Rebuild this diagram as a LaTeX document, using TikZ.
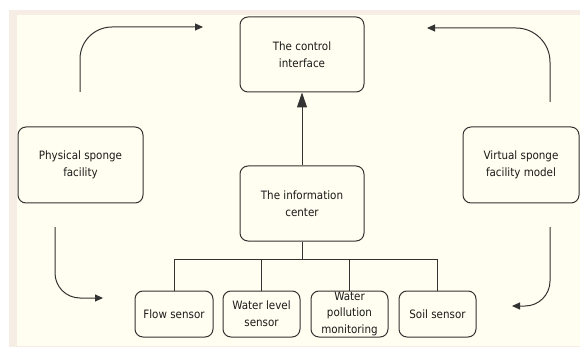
\documentclass[tikz,border=0pt]{standalone}
\usepackage{fontspec}
\setmainfont{DejaVu Sans Condensed}
\usetikzlibrary{arrows.meta}
\definecolor{beigeband}{HTML}{F6EEE5}
\definecolor{creambg}{HTML}{FFFEF0}
\definecolor{linecol}{HTML}{333333}
\definecolor{textcol}{HTML}{1A1A1A}
\tikzset{
  box/.style={draw=linecol, line width=1pt, rounded corners=8pt, fill=creambg,
    text=textcol, align=center, font=\fontsize{11.5}{17}\selectfont, inner sep=0pt},
  conn/.style={draw=linecol, line width=1pt},
  flowarrow/.style={conn, -{Triangle[length=8pt,width=7pt]}},
  bigarrow/.style={conn, -{Triangle[length=15pt,width=10pt]}}
}
\begin{document}
\begin{tikzpicture}[x=1pt,y=-1pt]
\useasboundingbox (0,0) rectangle (580,347);
\fill[white] (0,0) rectangle (580,347);
\fill[beigeband] (9,10) rectangle (580,347);
\fill[creambg] (17,15) rectangle (580,346);

\node[box, minimum width=124pt, minimum height=75pt] (ctrl) at (302,54.5) {The control\\interface};
\node[box, minimum width=125pt, minimum height=76pt] (phys) at (80.5,165) {Physical sponge\\facility};
\node[box, minimum width=116pt, minimum height=76pt] (virt) at (521,165) {Virtual sponge\\facility model};
\node[box, minimum width=124pt, minimum height=75pt] (info) at (302,203.5) {The information\\center};

\node[box, minimum width=78pt, minimum height=46pt] (flow) at (174,314) {Flow sensor};
\node[box, minimum width=77pt, minimum height=46pt] (level) at (261.5,314) {Water level\\sensor};
\node[box, minimum width=77pt, minimum height=46pt] (poll) at (349.5,314) {};
\node[text=textcol, align=center, font=\fontsize{11.5}{16.5}\selectfont, inner sep=0pt] (polltext) at (349.5,314) {Water\\pollution\\monitoring};
\node[box, minimum width=77pt, minimum height=46pt] (soil) at (437.5,314) {Soil sensor};

% bus
\coordinate (bus) at (302,259);
\draw[conn] (info.south) -- (bus);
\draw[conn] (flow.north) |- (soil.north |- bus) -- (soil.north);
\draw[conn] (level.north) -- (level.north |- bus);
\draw[conn] (poll.north) -- (poll.north |- bus);

% info -> control
\draw[bigarrow] (info.north) -- (ctrl.south);

% curved arrows
\coordinate (ltS) at (80,92);
\coordinate (ltE) at (203,27);
\draw[flowarrow, rounded corners=32pt] (ltS) |- (ltE);

\coordinate (rtS) at (550,102);
\coordinate (rtE) at (427,28);
\draw[flowarrow, rounded corners=34pt] (rtS) |- (rtE);

\coordinate (lbS) at (55,227);
\coordinate (lbE) at (103,298);
\draw[flowarrow, rounded corners=25pt] (lbS) |- (lbE);

\coordinate (rbS) at (550,227);
\coordinate (rbE) at (512,306);
\draw[flowarrow, rounded corners=25pt] (rbS) |- (rbE);
\end{tikzpicture}
\end{document}
